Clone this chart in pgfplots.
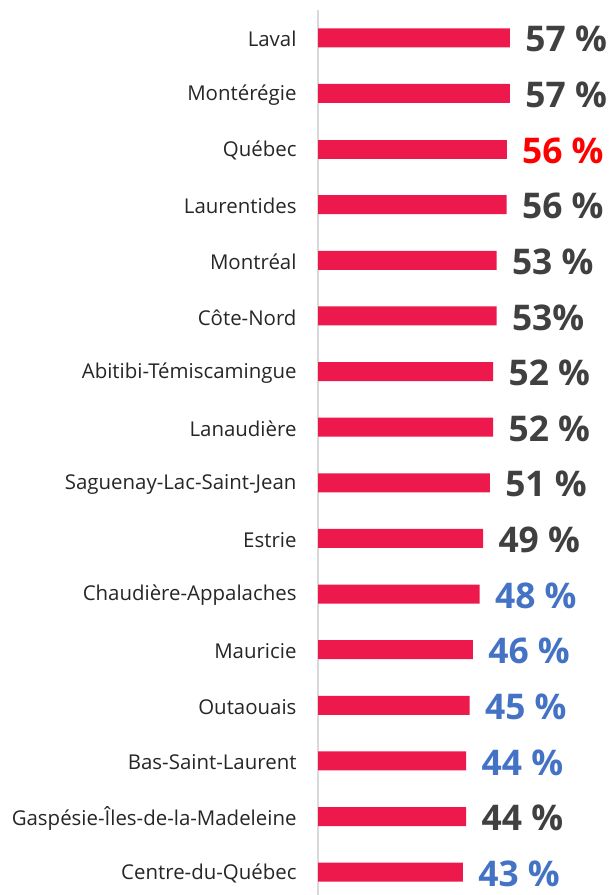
\documentclass[border=0pt]{standalone}
\usepackage{fontspec}
\setmainfont{Open Sans}
\usepackage{pgfplots}
\pgfplotsset{compat=1.18}
\definecolor{barred}{RGB}{237,25,76}
\definecolor{lblgray}{RGB}{64,64,64}
\definecolor{lblred}{RGB}{255,0,0}
\definecolor{lblblue}{RGB}{68,114,196}
\definecolor{axgray}{RGB}{217,217,217}
\begin{document}
\begin{tikzpicture}[x=1bp,y=1bp]
\path[use as bounding box] (0,0) rectangle (613,895);
\begin{axis}[
  at={(318bp,0bp)}, anchor=south west,
  scale only axis, width=293bp, height=885bp,
  xmin=0, xmax=87, ymin=-0.5, ymax=15.41,
  y dir=reverse,
  axis x line=none,
  axis y line=left,
  y axis line style={-, draw=axgray, line width=1.5bp},
  major tick length=0pt,
  ytick={0,...,15},
  yticklabels={Laval,Montérégie,Québec,Laurentides,Montréal,Côte-Nord,Abitibi-Témiscamingue,Lanaudière,Saguenay-Lac-Saint-Jean,Estrie,Chaudière-Appalaches,Mauricie,Outaouais,Bas-Saint-Laurent,Gaspésie-Îles-de-la-Madeleine,Centre-du-Québec},
  yticklabel style={font=\fontsize{20.5}{23}\selectfont, text=black!85, xshift=-18bp, yshift=-1.5bp},
  clip=false,
  xbar, bar width=19bp, bar shift=0pt,
  point meta=explicit symbolic,
  nodes near coords,
  every node near coord/.append style={font=\bfseries\fontsize{35.5}{38}\selectfont, anchor=west, xshift=12bp, yshift=-1.5bp},
]
\addplot[fill=barred, draw=none, every node near coord/.append style={text=lblgray}] coordinates {
(57,0) [57~\%]
(57,1) [57~\%]
(56,3) [56~\%]
(53,4) [53~\%]
(53,5) [53\%]
(52,6) [52~\%]
(52,7) [52~\%]
(51,8) [51~\%]
(49,9) [49~\%]
(44,14) [44~\%]
};
\addplot[fill=barred, draw=none, every node near coord/.append style={text=lblred}] coordinates {
(56,2) [56~\%]
};
\addplot[fill=barred, draw=none, every node near coord/.append style={text=lblblue}] coordinates {
(48,10) [48~\%]
(46,11) [46~\%]
(45,12) [45~\%]
(44,13) [44~\%]
(43,15) [43~\%]
};
\end{axis}
\end{tikzpicture}
\end{document}
